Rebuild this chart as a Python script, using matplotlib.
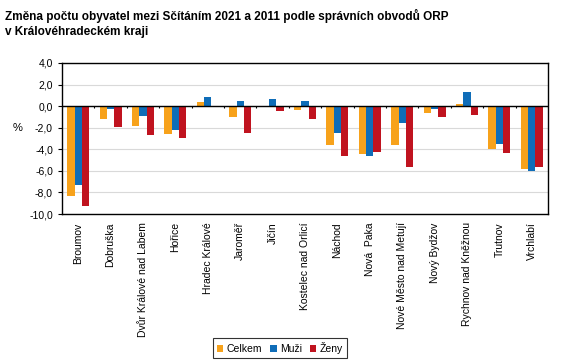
import numpy as np
import matplotlib
matplotlib.use('Agg')
from matplotlib import pyplot as plt
from matplotlib.ticker import FuncFormatter

plt.rcParams['font.family'] = ['Liberation Sans', 'DejaVu Sans']

orp = ['Broumov', 'Dobruška', 'Dvůr Králové nad Labem', 'Hořice', 'Hradec Králové',
       'Jaroměř', 'Jičín', 'Kostelec nad Orlicí', 'Náchod', 'Nová  Paka',
       'Nové Město nad Metují', 'Nový Bydžov', 'Rychnov nad Kněžnou', 'Trutnov', 'Vrchlabí']
celkem = [-8.33, -1.15, -1.8, -2.6, 0.4, -1.0, -0.05, -0.37, -3.58, -4.41, -3.6, -0.65, 0.18, -3.95, -5.8]
muzi = [-7.3, -0.3, -0.9, -2.2, 0.83, 0.52, 0.65, 0.5, -2.47, -4.6, -1.54, -0.28, 1.27, -3.55, -6.0]
zeny = [-9.3, -1.95, -2.7, -2.95, -0.05, -2.47, -0.43, -1.15, -4.66, -4.23, -5.65, -1.02, -0.83, -4.35, -5.65]

c_orange = '#F7A21B'
c_blue = '#0F6DB8'
c_red = '#C0131F'

fig = plt.figure(figsize=(5.67, 3.63), dpi=100)
ax = fig.add_axes([62/567, 1-214/363, 486/567, 151/363])

x = np.arange(len(orp))
w = 0.225
ax.bar(x - w, celkem, w, color=c_orange, label='Celkem', zorder=3)
ax.bar(x, muzi, w, color=c_blue, label='Muži', zorder=3)
ax.bar(x + w, zeny, w, color=c_red, label='Ženy', zorder=3)

ax.set_xlim(-0.5, len(orp) - 0.5)
ax.set_ylim(-10, 4)
ax.set_yticks(np.arange(-10, 4.1, 2))
ax.yaxis.set_major_formatter(FuncFormatter(lambda v, p: ('%.1f' % v).replace('.', ',')))
ax.grid(axis='y', color='#D9D9D9', linewidth=0.8, zorder=0)
ax.axhline(0, color='black', linewidth=1.0, zorder=4)
# category separators on the zero line
ax.vlines(np.arange(len(orp) + 1) - 0.5, -0.2, 0, color='black', linewidth=0.8, zorder=4)

ax.set_xticks(x)
ax.set_xticklabels(orp, rotation=90, fontsize=7.5)
ax.tick_params(axis='x', length=0, pad=6)
ax.tick_params(axis='y', labelsize=7.5, length=3, width=0.8)
for s in ax.spines.values():
    s.set_linewidth(1.0)
    s.set_color('black')

fig.text(13/567, 1-128/363, '%', fontsize=8, ha='left', va='center')
fig.text(5/567, 1-9/363, 'Změna počtu obyvatel mezi Sčítáním 2021 a 2011 podle správních obvodů ORP\nv Královéhradeckém kraji',
         fontsize=8.5, fontweight='bold', ha='left', va='top', linespacing=1.3)

leg = fig.legend(loc='center', bbox_to_anchor=(280/567, 1-348/363), ncol=3, fontsize=7.5,
                 frameon=True, fancybox=False, handlelength=0.6, handleheight=0.6,
                 handletextpad=0.3, columnspacing=0.8, borderpad=0.4)
leg.get_frame().set_edgecolor('black')
leg.get_frame().set_linewidth(0.8)

fig.savefig('out.png', dpi=100)
